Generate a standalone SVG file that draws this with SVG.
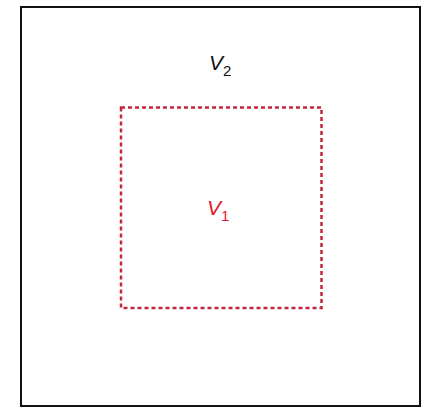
<svg xmlns="http://www.w3.org/2000/svg" width="426" height="408" viewBox="0 0 426 408">
<style>
.lbl{font-family:"Liberation Sans",Arial,sans-serif;font-size:21px}
.sub{font-size:15px}
</style>
<rect width="426" height="408" fill="#fff"/>
<g id="V2">
<rect x="21" y="7" width="399" height="399" fill="none" stroke="#111" stroke-width="2"/>
<text class="lbl" x="209" y="70" fill="#111"><tspan font-style="italic">V</tspan><tspan class="sub" dy="6">2</tspan></text>
</g>
<g id="V1">
<rect x="121" y="107.5" width="200.5" height="200.5" fill="none" stroke="#c0283a" stroke-width="2.5" stroke-dasharray="4,3"/>
<text class="lbl" x="207" y="215" fill="#e3162e"><tspan font-style="italic">V</tspan><tspan class="sub" dy="6">1</tspan></text>
</g>
<g id="connectors"/>
</svg>
